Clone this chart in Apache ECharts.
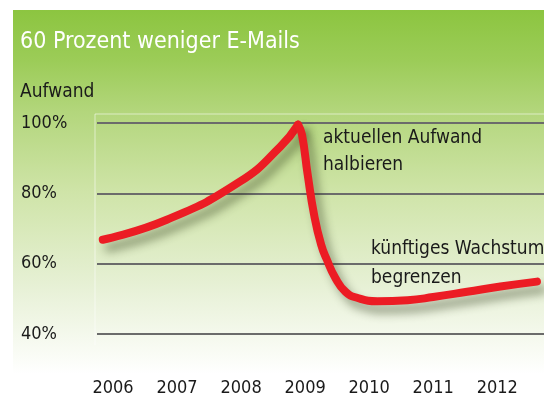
<!DOCTYPE html>
<html>
<head>
<meta charset="utf-8">
<style>
  html, body { margin: 0; padding: 0; background: #fff; }
  #chart { width: 544px; height: 401px; }
</style>
<script src="https://cdn.jsdelivr.net/npm/echarts@6/dist/echarts.min.js"></script>
</head>
<body>
<div id="chart"></div>
<script>
const years = [2006, 2007, 2008, 2009, 2010, 2011, 2012]
const yTicks = [40, 60, 80, 100]
// Anstieg bis zum Höhepunkt
const riseData = [
  [2005.84, 66.8], [2006.84, 72.5], [2007.98, 83.3],
  [2008.61, 93.2], [2008.89, 99.5]
]
// Absturz und danach flaches Wachstum
const fallData = [
  [2008.89, 99.5], [2008.95, 96.7], [2009.04, 85.3], [2009.14, 73.9],
  [2009.25, 65.4], [2009.34, 61.1], [2009.47, 56.0], [2009.63, 52.0],
  [2009.81, 50.3], [2010.13, 49.3], [2010.6, 49.6], [2011.0, 50.5],
  [2011.53, 52.0], [2012.05, 53.5], [2012.62, 54.9]
]

const font = '"Liberation Sans Narrow", "DejaVu Sans Condensed", sans-serif'
const red = '#ec1c24'

const lineStyle = {
  color: red,
  width: 8,
  cap: 'round',
  join: 'round',
  shadowColor: 'rgba(40, 50, 20, 0.45)',
  shadowBlur: 10,
  shadowOffsetX: 6,
  shadowOffsetY: 8
}

const chart = echarts.init(document.getElementById('chart'))
chart.setOption({
  animation: false,
  title: [
    {
      text: '60 Prozent weniger E-Mails',
      left: 15,
      top: 26,
      textStyle: { color: '#fff', fontFamily: font, fontSize: 23, fontWeight: 'normal' }
    },
    {
      text: 'Aufwand',
      left: 15,
      top: 78,
      textStyle: { color: '#1a1a1a', fontFamily: font, fontSize: 19, fontWeight: 'normal' }
    }
  ],
  graphic: [
    {
      type: 'rect',
      z: -10,
      silent: true,
      shape: { x: 13, y: 10, width: 531, height: 364 },
      style: {
        fill: new echarts.graphic.LinearGradient(0, 0, 0, 1, [
          { offset: 0, color: '#8cc540' },
          { offset: 0.14, color: '#9ccc58' },
          { offset: 0.28, color: '#b3d67c' },
          { offset: 0.5, color: '#cfe4a8' },
          { offset: 0.75, color: '#e6f0d4' },
          { offset: 1, color: '#ffffff' }
        ])
      }
    },
    {
      type: 'polyline',
      z: -5,
      silent: true,
      shape: { points: [[95, 345], [95, 114], [544, 114]] },
      style: { stroke: 'rgba(255,255,255,0.55)', lineWidth: 1, fill: null }
    },
    {
      type: 'text',
      left: 323,
      top: 125,
      style: {
        text: 'aktuellen Aufwand\nhalbieren',
        fill: '#1a1a1a',
        font: '19px ' + font,
        lineHeight: 27
      }
    },
    {
      type: 'text',
      left: 371,
      top: 235,
      style: {
        text: 'künftiges Wachstum\nbegrenzen',
        fill: '#1a1a1a',
        font: '19px ' + font,
        lineHeight: 29
      }
    }
  ],
  grid: { left: 97, right: 0, top: 123, bottom: 67 },
  xAxis: {
    type: 'value',
    min: 2005.75,
    max: 2012.73,
    axisLine: { show: false },
    axisTick: { show: false },
    splitLine: { show: false },
    axisLabel: {
      customValues: years,
      margin: 45,
      color: '#1a1a1a',
      fontFamily: font,
      fontSize: 18,
      formatter: v => String(v)
    }
  },
  yAxis: {
    type: 'value',
    min: 40,
    max: 100,
    interval: 20,
    axisLine: { show: false },
    axisTick: { show: false },
    splitLine: { lineStyle: { color: '#6b6b6b', width: 2 } },
    axisLabel: {
      customValues: yTicks,
      align: 'left',
      margin: 76,
      color: '#1a1a1a',
      fontFamily: font,
      fontSize: 18,
      formatter: v => v + '%'
    }
  },
  series: [
    {
      type: 'line',
      data: riseData,
      smooth: 0.5,
      symbol: 'none',
      lineStyle: lineStyle
    },
    {
      type: 'line',
      data: fallData,
      smooth: 0.5,
      symbol: 'none',
      lineStyle: lineStyle
    }
  ]
})
</script>
</body>
</html>
